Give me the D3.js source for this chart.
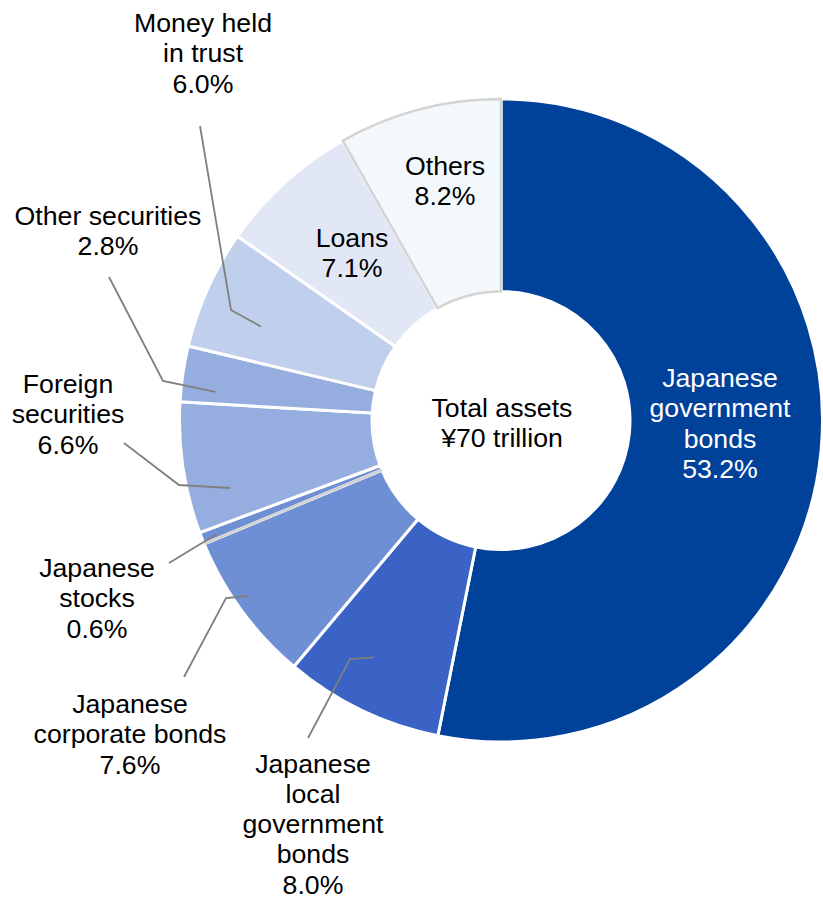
<!DOCTYPE html>
<html>
<head>
<meta charset="utf-8">
<script src="https://cdn.jsdelivr.net/npm/d3@7"></script>
<style>
  html, body { margin: 0; padding: 0; background: #ffffff; }
  svg { display: block; }
  text { font-family: "Liberation Sans", Arial, sans-serif; }
</style>
</head>
<body>
<div id="chart"></div>
<script>
// Asset composition, share of total (%)
const categories = [
  "Japanese government bonds",
  "Japanese local government bonds",
  "Japanese corporate bonds",
  "Japanese stocks",
  "Foreign securities",
  "Other securities",
  "Money held in trust",
  "Loans",
  "Others"
];
const shares = [53.2, 8.0, 7.6, 0.6, 6.6, 2.8, 6.0, 7.1, 8.2];

// How each category name wraps in its label
const labelLines = [
  ["Japanese", "government", "bonds"],
  ["Japanese", "local", "government", "bonds"],
  ["Japanese", "corporate bonds"],
  ["Japanese", "stocks"],
  ["Foreign", "securities"],
  ["Other securities"],
  ["Money held", "in trust"],
  ["Loans"],
  ["Others"]
];

const centerLines = ["Total assets", "\u00a570 trillion"];

const sliceColors = [
  "#00419a", "#3a63c5", "#6f8fd5", "#6f8fd5", "#95aedf",
  "#95aedf", "#c0cfec", "#e1e7f5", "#f3f8fd"
];

// Label placement: text centre x, first baseline y; leader = [start, elbow]
// plus where the leader meets its slice (t: fraction across slice, r: radius)
const labelLayout = [
  { x: 720, y: 387, fill: "#ffffff" },
  { x: 313, y: 772.5, leader: [[308, 738], [350, 659]], t: 0.59, r: 269 },
  { x: 130, y: 713, leader: [[184, 677], [226, 598]], t: 0.55, r: 307 },
  { x: 97,  y: 577, leader: [[169, 563]], t: 0.36, r: 306 },
  { x: 68,  y: 393, leader: [[124, 443], [179, 485]], t: 0.27, r: 279 },
  { x: 108, y: 225, leader: [[109, 277], [163, 381]], t: 0.24, r: 287 },
  { x: 203, y: 32,  leader: [[200, 126], [231, 310]], t: 0.37, r: 258 },
  { x: 352, y: 247 },
  { x: 445, y: 175 }
];

const W = 823, H = 897;
const cx = 501, cy = 420.5;
const outerR = 321.5, innerR = 129;
const fontSize = 26.7, lineH = 30.3;

const svg = d3.select("#chart").append("svg")
  .attr("width", W).attr("height", H);

const g = svg.append("g").attr("transform", `translate(${cx},${cy})`);

const pie = d3.pie().sort(null).value(d => d)
  .startAngle(0).endAngle(2 * Math.PI);
const arcs = pie(shares);

const arc = d3.arc().innerRadius(innerR).outerRadius(outerR);

// Slices
g.selectAll("path.slice")
  .data(arcs)
  .join("path")
  .attr("class", "slice")
  .attr("d", arc)
  .attr("fill", (d, i) => sliceColors[i])
  .attr("stroke", "#ffffff")
  .attr("stroke-width", 3)
  .attr("stroke-linejoin", "round");

// Grey rule where the stock slice meets the corporate bond slice
const stockIdx = categories.indexOf("Japanese stocks");
const a0 = arcs[stockIdx].startAngle;
g.append("line")
  .attr("x1", innerR * Math.sin(a0)).attr("y1", -innerR * Math.cos(a0))
  .attr("x2", outerR * Math.sin(a0)).attr("y2", -outerR * Math.cos(a0))
  .attr("stroke", "#d2d2d2").attr("stroke-width", 2.5);

// "Others" slice carries a grey outline
const othersIdx = categories.indexOf("Others");
g.append("path")
  .attr("d", arc(arcs[othersIdx]))
  .attr("fill", sliceColors[othersIdx])
  .attr("stroke", "#d4d4d4")
  .attr("stroke-width", 2.5)
  .attr("stroke-linejoin", "round");

// Leader lines
arcs.forEach((d, i) => {
  const L = labelLayout[i];
  if (!L.leader) return;
  const ang = d.startAngle + (d.endAngle - d.startAngle) * L.t;
  const end = [cx + L.r * Math.sin(ang), cy - L.r * Math.cos(ang)];
  const pts = L.leader.concat([end]);
  svg.append("path")
    .attr("d", d3.line()(pts))
    .attr("fill", "none")
    .attr("stroke", "#7f7f7f")
    .attr("stroke-width", 1.8);
});

// Slice labels
arcs.forEach((d, i) => {
  const L = labelLayout[i];
  const lines = labelLines[i].concat([d3.format(".1f")(shares[i]) + "%"]);
  const t = svg.append("text")
    .attr("text-anchor", "middle")
    .attr("font-size", fontSize)
    .attr("fill", L.fill || "#000000");
  lines.forEach((s, k) => {
    t.append("tspan").attr("x", L.x).attr("y", L.y + k * lineH).text(s);
  });
});

// Centre caption
const ct = svg.append("text")
  .attr("text-anchor", "middle")
  .attr("font-size", fontSize)
  .attr("fill", "#000000");
centerLines.forEach((s, k) => {
  ct.append("tspan").attr("x", cx + 1).attr("y", 417 + k * 30).text(s);
});
</script>
</body>
</html>
